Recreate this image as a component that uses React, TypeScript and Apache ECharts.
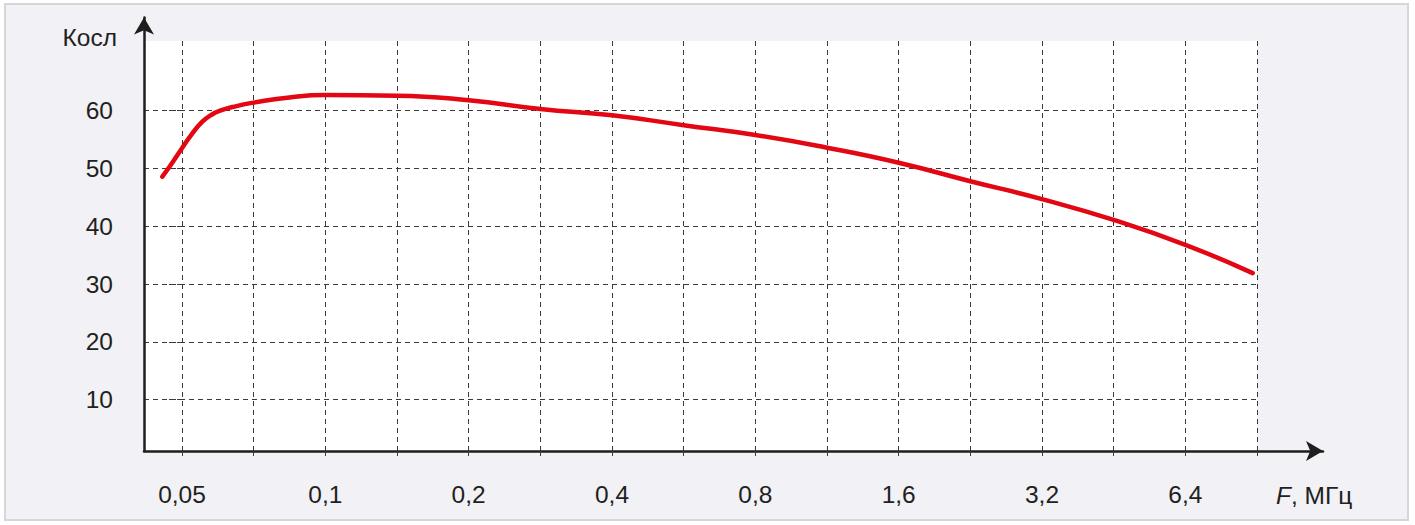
import React, { useEffect, useRef } from "react";
import * as echarts from "echarts";

// Frequency tick labels (MHz), one per octave starting at 0.05 MHz
const freqLabels = ["0,05", "0,1", "0,2", "0,4", "0,8", "1,6", "3,2", "6,4"];
// Grid positions on the frequency axis, in octaves from 0.05 MHz (half-octave grid)
const xGrid = [0, 0.5, 1, 1.5, 2, 2.5, 3, 3.5, 4, 4.5, 5, 5.5, 6, 6.5, 7, 7.5];
const xLabelPos = [0, 1, 2, 3, 4, 5, 6, 7];
// Y tick values
const yTicks = [10, 20, 30, 40, 50, 60];

// Curve: position in octaves from 0.05 MHz, and Kosl value
const xOctave = [-0.137, -0.07, 0, 0.07, 0.142, 0.2, 0.266, 0.38, 0.5, 0.75, 1, 1.5, 2, 2.5, 3, 3.5, 4, 4.5, 5, 5.5, 6, 6.5, 7, 7.47];
const kosl = [48.6, 50.9, 53.5, 56.0, 58.1, 59.2, 60.0, 60.8, 61.4, 62.3, 62.7, 62.6, 61.8, 60.3, 59.2, 57.5, 55.8, 53.6, 51.0, 47.8, 44.7, 41.1, 36.8, 31.9];

const FONT = "'Liberation Sans', Arial, sans-serif";
const FS = 24.5;
const TXT = "#231f20";
const GRIDC = "#3a3a3a";

export default function App() {
  const ref = useRef<HTMLDivElement>(null);
  useEffect(() => {
    if (!ref.current) return;
    const chart = echarts.init(ref.current, undefined, { renderer: "svg" });
    const data = xOctave.map((x, i) => [x, kosl[i]]);
    chart.setOption({
      animation: false,
      textStyle: { fontFamily: FONT },
      grid: [
        {
          left: 144,
          right: 1415 - 1257,
          top: 41,
          bottom: 525 - 451,
          show: true,
          backgroundColor: "#ffffff",
          borderWidth: 0,
        },
        { left: 144, right: 92, top: 17.5, bottom: 525 - 451 },
      ],
      xAxis: [
        {
          type: "value",
          gridIndex: 0,
          min: -0.265,
          max: 7.5,
          axisLine: { show: false },
          axisTick: {
            show: true,
            customValues: xGrid,
            length: 8,
            inside: false,
            lineStyle: { color: GRIDC, width: 1, type: [5, 4] },
          },
          axisLabel: {
            customValues: xLabelPos,
            formatter: (v: number) => freqLabels[Math.round(v)] ?? "",
            fontSize: FS,
            color: TXT,
            fontFamily: FONT,
            margin: 31,
          },
          splitLine: { show: true, lineStyle: { color: GRIDC, width: 1, type: [5, 4] } },
        },
        {
          type: "value",
          gridIndex: 1,
          min: 0,
          max: 1,
          axisLine: {
            show: true,
            symbol: ["none", "arrow"],
            symbolSize: [15, 17],
            lineStyle: { color: "#1e1e1e", width: 2.5 },
          },
          axisTick: { show: false },
          axisLabel: { show: false },
          splitLine: { show: false },
        },
      ],
      yAxis: [
        {
          type: "value",
          gridIndex: 0,
          min: 1.12,
          max: 72.06,
          axisLine: { show: false },
          axisTick: {
            show: true,
            customValues: yTicks,
            length: 13,
            inside: false,
            lineStyle: { color: GRIDC, width: 1, type: [5, 4] },
          },
          axisLabel: {
            customValues: yTicks,
            fontSize: FS,
            color: TXT,
            fontFamily: FONT,
            margin: 31,
          },
          splitLine: { show: true, lineStyle: { color: GRIDC, width: 1, type: [5, 4] } },
        },
        {
          type: "value",
          gridIndex: 1,
          min: 0,
          max: 1,
          axisLine: {
            show: true,
            symbol: ["none", "arrow"],
            symbolSize: [15, 17],
            lineStyle: { color: "#1e1e1e", width: 2.5 },
          },
          axisTick: { show: false },
          axisLabel: { show: false },
          splitLine: { show: false },
        },
      ],
      graphic: [
        {
          type: "text",
          x: 117,
          y: 37,
          style: {
            text: "Косл",
            fill: TXT,
            font: `${FS}px ${FONT}`,
            align: "right",
            verticalAlign: "middle",
          },
        },
        {
          type: "text",
          x: 1276,
          y: 495,
          style: {
            text: "{i|F}{n|, МГц}",
            fill: TXT,
            align: "left",
            verticalAlign: "middle",
            rich: {
              i: { fontStyle: "italic", fontSize: FS, fontFamily: FONT, fill: TXT },
              n: { fontSize: FS, fontFamily: FONT, fill: TXT },
            },
          },
        },
      ],
      series: [
        {
          type: "line",
          xAxisIndex: 0,
          yAxisIndex: 0,
          data,
          smooth: 0.5,
          showSymbol: false,
          symbol: "none",
          lineStyle: { color: "#e30613", width: 4.5, cap: "round" },
          z: 5,
        },
      ],
    });
    return () => chart.dispose();
  }, []);

  return (
    <div style={{ position: "fixed", left: 0, top: 0, width: 1415, height: 525, background: "#ffffff" }}>
      <div
        style={{
          position: "absolute",
          left: 4,
          top: 3,
          width: 1405,
          height: 518,
          boxSizing: "border-box",
          border: "2px solid #d6d6d8",
          background: "#f1f1f6",
        }}
      />
      <div ref={ref} style={{ position: "absolute", left: 0, top: 0, width: 1415, height: 525 }} />
    </div>
  );
}
